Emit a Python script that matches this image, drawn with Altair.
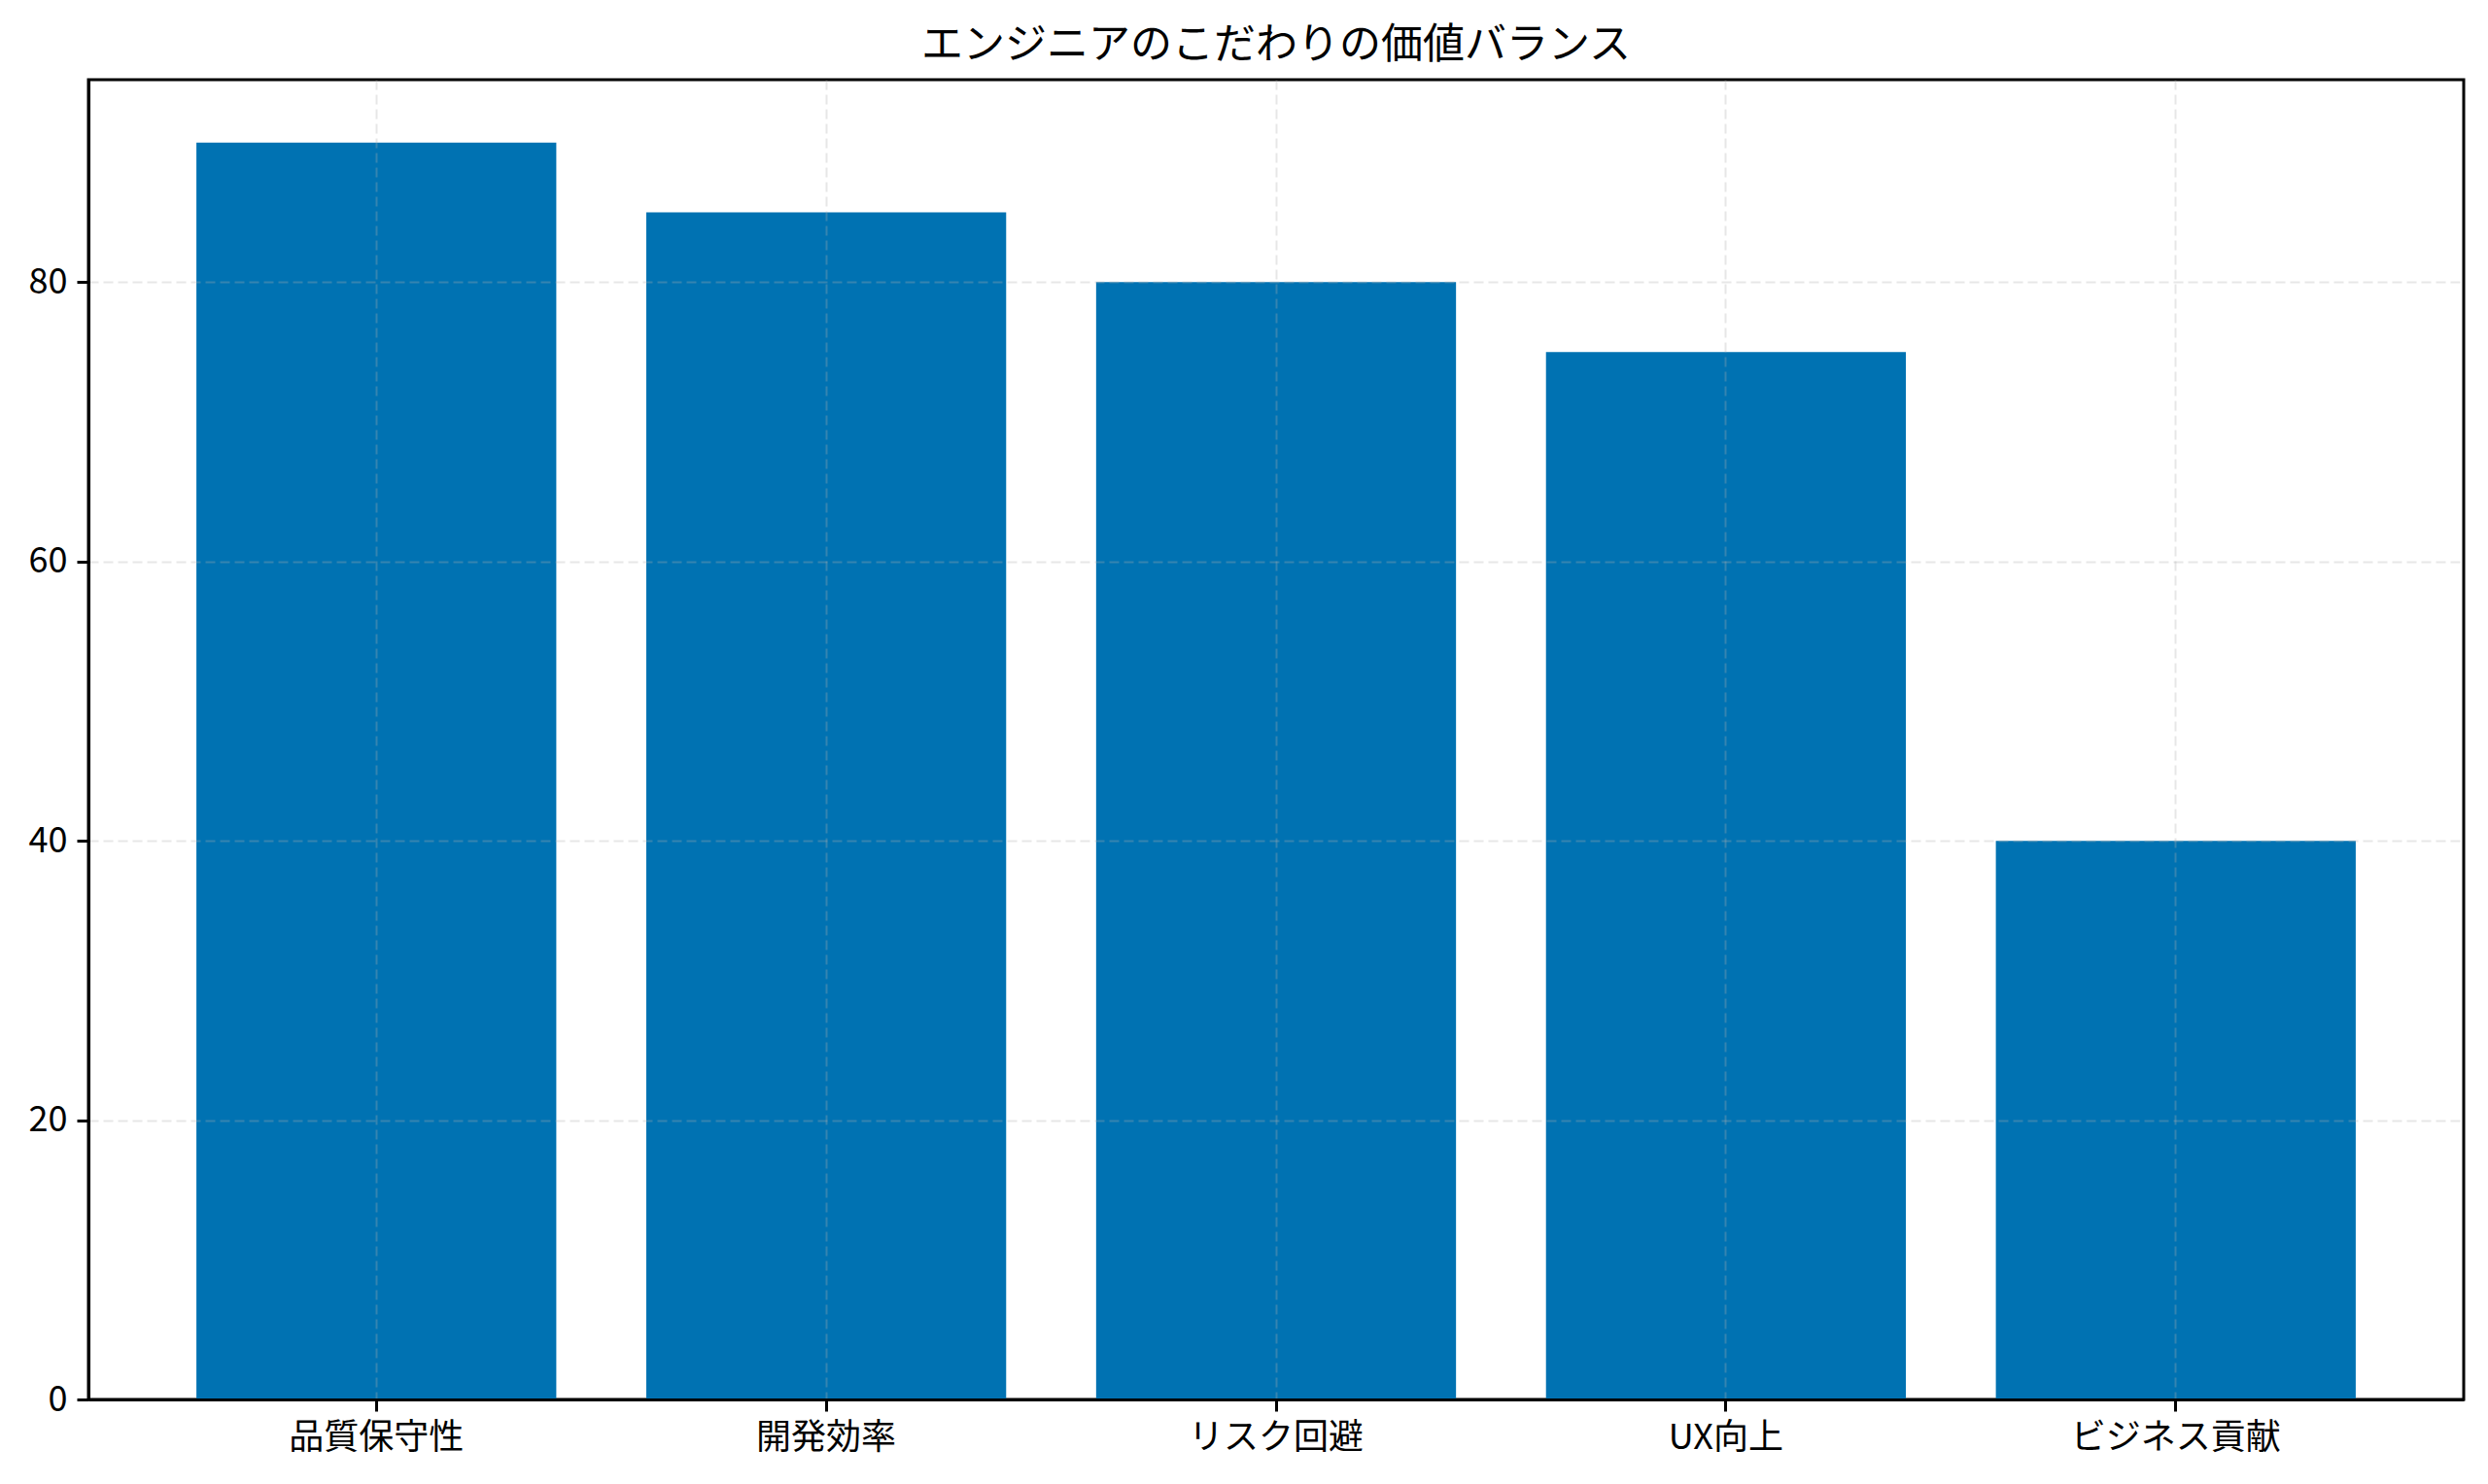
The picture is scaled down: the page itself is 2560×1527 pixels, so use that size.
import altair as alt
import pandas as pd

# values
categories = ["品質保守性", "開発効率", "リスク回避", "UX向上", "ビジネス貢献"]
scores = [90, 85, 80, 75, 40]
y_ticks = [0, 20, 40, 60, 80]

df = pd.DataFrame({"category": categories, "score": scores})

FONT = "Noto Sans CJK JP"
BLUE = "#0072B2"

grid_style = dict(
    grid=True,
    gridColor="#b0b0b0",
    gridOpacity=0.3,
    gridDash=[10, 5],
    gridWidth=2,
    domainColor="black",
    domainWidth=3,
    tickColor="black",
    tickWidth=3,
    tickSize=12,
    labelPadding=10,
    labelFont=FONT,
    labelFontSize=36,
    labelColor="black",
    labelLimit=0,
    title=None,
    zindex=1,
)

chart = alt.Chart(
    df,
    title=alt.Title(
        "エンジニアのこだわりの価値バランス",
        font=FONT,
        fontSize=43,
        fontWeight="normal",
        color="black",
        anchor="middle",
        offset=13,
    ),
).mark_bar(color=BLUE).encode(
    x=alt.X(
        "category:N",
        sort=categories,
        scale=alt.Scale(paddingInner=0.2, paddingOuter=0.24),
        axis=alt.Axis(labelAngle=0, **grid_style),
    ),
    y=alt.Y(
        "score:Q",
        scale=alt.Scale(domain=[0, 94.5], nice=False, zero=True),
        axis=alt.Axis(values=y_ticks, **grid_style),
    ),
).properties(
    width=2444,
    height=1358,
    padding={"left": 21, "top": 18, "right": 10, "bottom": 10},
    background="white",
).configure_view(
    stroke="black",
    strokeWidth=3,
)

chart.save("out.html", embed_options={"renderer": "svg", "actions": False})
